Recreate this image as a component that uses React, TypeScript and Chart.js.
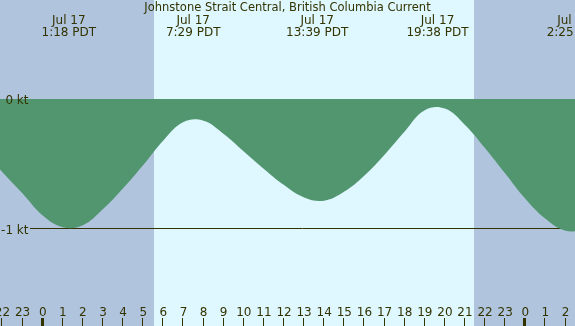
import React, { useEffect, useRef } from "react";
import { Chart, registerables } from "chart.js";

Chart.register(...registerables);

const TITLE = "Johnstone Strait Central, British Columbia Current";

// hourly current values, hours relative to midnight Jul 17 (PDT)
const curveHours = [
  -3, -2, -1, 0, 1, 2, 3, 4, 5, 6, 7, 8, 9, 10, 11, 12, 13, 14, 15, 16, 17, 18, 19,
  20, 21, 22, 23, 24, 25, 26, 27,
];
const curveKnots = [
  -0.39, -0.565, -0.73, -0.9, -0.99, -0.975, -0.85, -0.69, -0.51, -0.32, -0.178,
  -0.168, -0.27, -0.405, -0.54, -0.665, -0.76, -0.785, -0.715, -0.59, -0.43, -0.25,
  -0.087, -0.074, -0.2, -0.38, -0.575, -0.77, -0.925, -1.017, -1.01,
];

const eventHours = [1.3, 7.483, 13.65, 19.633, 26.417];
const eventDates = ["Jul 17", "Jul 17", "Jul 17", "Jul 17", "Jul 18"];
const eventTimes = ["1:18 PDT", "7:29 PDT", "13:39 PDT", "19:38 PDT", "2:25 PDT"];

const tickHours = [
  -2, -1, 0, 1, 2, 3, 4, 5, 6, 7, 8, 9, 10, 11, 12, 13, 14, 15, 16, 17, 18, 19, 20,
  21, 22, 23, 24, 25, 26,
];
const tickLabels = tickHours.map((h) => String(((h % 24) + 24) % 24));

const levelValues = [0, -1];
const levelLabels = ["0 kt", "-1 kt"];

const sunrise = 5.535;
const sunset = 21.447;

const X_MIN = -2.123;
const X_MAX = 26.47;
const Y_MAX = 0.7645;
const Y_MIN = -1.7529;

const NIGHT = "#b0c4de";
const DAY = "#dff7ff";
const FILL = "#529670";
const INK = "#333300";
const FONT = '"DejaVu Sans", sans-serif';

export default function App() {
  const ref = useRef<HTMLCanvasElement | null>(null);

  useEffect(() => {
    document.body.style.margin = "0";
    const canvas = ref.current;
    if (!canvas) return;

    const bgPlugin = {
      id: "bgPlugin",
      beforeDraw(chart: any) {
        const { ctx, width, height } = chart;
        const xs = chart.scales.x;
        const ys = chart.scales.y;
        ctx.save();
        ctx.fillStyle = NIGHT;
        ctx.fillRect(0, 0, width, height);
        const a = Math.round(xs.getPixelForValue(sunrise));
        const b = Math.round(xs.getPixelForValue(sunset));
        ctx.fillStyle = DAY;
        ctx.fillRect(a, 0, b - a, height);
        // -1 kt reference line (behind the fill)
        ctx.strokeStyle = INK;
        ctx.lineWidth = 1;
        const py = Math.floor(ys.getPixelForValue(-1)) + 0.5;
        ctx.beginPath();
        ctx.moveTo(30, py);
        ctx.lineTo(width, py);
        ctx.stroke();
        ctx.restore();
      },
      afterDatasetsDraw(chart: any) {
        const { ctx, width } = chart;
        const xs = chart.scales.x;
        const ys = chart.scales.y;
        ctx.save();
        ctx.fillStyle = INK;
        // title
        ctx.font = `11.5px ${FONT}`;
        ctx.textAlign = "center";
        ctx.textBaseline = "alphabetic";
        ctx.fillText(TITLE, width / 2, 11);
        // event labels
        ctx.font = `12px ${FONT}`;
        eventHours.forEach((h, i) => {
          const px = xs.getPixelForValue(h);
          ctx.fillText(eventDates[i], px, 24);
          ctx.fillText(eventTimes[i], px, 36);
        });
        // level labels
        ctx.textAlign = "right";
        levelValues.forEach((v, i) => {
          const py = ys.getPixelForValue(v);
          ctx.fillText(levelLabels[i], 28.5, Math.round(py) + 4.5);
        });
        // hour ticks
        ctx.textAlign = "center";
        tickHours.forEach((h, i) => {
          const px = xs.getPixelForValue(h);
          ctx.fillText(tickLabels[i], px, 316);
          const isMid = ((h % 24) + 24) % 24 === 0;
          if (isMid) {
            ctx.fillRect(Math.round(px) - 2, 318, 3, 8);
          } else {
            ctx.fillRect(Math.round(px) - 1, 318, 1, 8);
          }
        });
        ctx.restore();
      },
    };

    const chart = new Chart(canvas, {
      type: "line",
      data: {
        datasets: [
          {
            data: curveHours.map((h, i) => ({ x: h, y: curveKnots[i] })),
            borderWidth: 0,
            borderColor: FILL,
            backgroundColor: FILL,
            pointRadius: 0,
            fill: "origin",
            tension: 0.4,
          },
        ],
      },
      options: {
        animation: false,
        responsive: false,
        maintainAspectRatio: false,
        layout: { padding: 0 },
        scales: {
          x: { type: "linear", min: X_MIN, max: X_MAX, display: false },
          y: { type: "linear", min: Y_MIN, max: Y_MAX, display: false },
        },
        plugins: {
          legend: { display: false },
          tooltip: { enabled: false },
          title: { display: false },
        },
      },
      plugins: [bgPlugin],
    } as any);

    return () => {
      chart.destroy();
    };
  }, []);

  return (
    <canvas
      ref={ref}
      width={575}
      height={326}
      style={{ display: "block", width: 575, height: 326 }}
    />
  );
}
